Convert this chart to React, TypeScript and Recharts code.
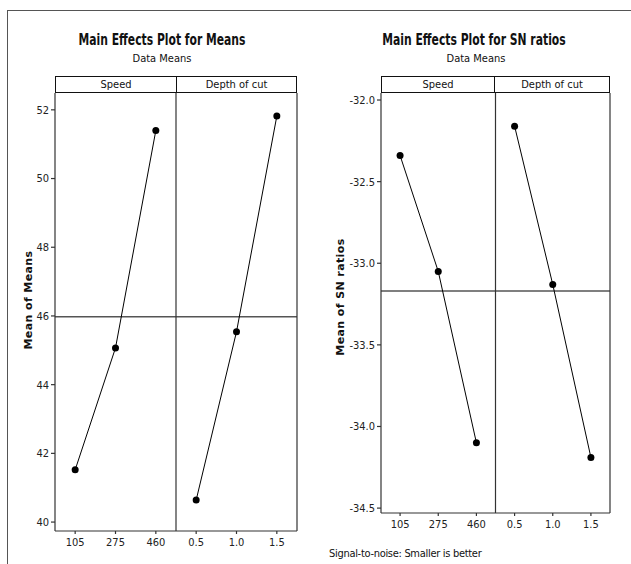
import React from 'react';
import { LineChart, Line, XAxis, YAxis, ReferenceLine } from 'recharts';

// factor levels
const speedLevels = ['105', '275', '460'];
const depthLevels = ['0.5', '1.0', '1.5'];
const xLabels = [...speedLevels, ...depthLevels];

// means of means
const speedMeans = [41.52, 45.07, 51.4];
const depthMeans = [40.64, 45.54, 51.82];
const meansGrand = 45.98;
const meansTicks = [40, 42, 44, 46, 48, 50, 52];

// means of SN ratios
const speedSN = [-32.34, -33.05, -34.1];
const depthSN = [-32.16, -33.13, -34.19];
const snGrand = -33.17;
const snTicks = [-34.5, -34.0, -33.5, -33.0, -32.5, -32.0];

const FONT = '"Liberation Sans Narrow", "DejaVu Sans Condensed", sans-serif';
const AXIS = '#333';

const buildRows = (a: number[], b: number[]) =>
  xLabels.map((_, i) => ({
    x: i,
    speed: i < 3 ? a[i] : null,
    depth: i >= 3 ? b[i - 3] : null,
  }));

const meansRows = buildRows(speedMeans, depthMeans);
const snRows = buildRows(speedSN, depthSN);

const dot = { r: 3.5, fill: '#000', stroke: '#000', strokeWidth: 0 };
const tickStyle = { fontSize: 11, fill: '#222', fontFamily: FONT };

interface PanelProps {
  rows: any[];
  domain: [number, number];
  ticks: number[];
  grand: number;
  fmt: (v: number) => string;
  width: number;
  height: number;
  margin: { top: number; right: number; left: number; bottom: number };
  yWidth: number;
}

const Panel: React.FC<PanelProps> = ({ rows, domain, ticks, grand, fmt, width, height, margin, yWidth }) => (
  <LineChart width={width} height={height} data={rows} margin={margin}>
    <XAxis
      type="number"
      dataKey="x"
      domain={[-0.5, 5.5]}
      ticks={[0, 1, 2, 3, 4, 5]}
      tickFormatter={(i: number) => xLabels[i]}
      stroke={AXIS}
      strokeWidth={1.2}
      tickSize={3}
      tickMargin={4}
      height={22}
      tick={tickStyle}
    />
    <YAxis
      type="number"
      domain={domain}
      ticks={ticks}
      allowDataOverflow
      tickFormatter={fmt}
      stroke={AXIS}
      strokeWidth={1.2}
      tickSize={4}
      tickMargin={2}
      width={yWidth}
      tick={tickStyle}
    />
    <ReferenceLine y={grand} stroke="#555" strokeWidth={1.5} />
    <ReferenceLine x={2.5} stroke={AXIS} strokeWidth={1.2} />
    <ReferenceLine x={5.5} stroke={AXIS} strokeWidth={1.2} />
    <Line dataKey="speed" stroke="#000" strokeWidth={1} dot={dot} activeDot={false} isAnimationActive={false} />
    <Line dataKey="depth" stroke="#000" strokeWidth={1} dot={dot} activeDot={false} isAnimationActive={false} />
  </LineChart>
);

const text = (extra: React.CSSProperties): React.CSSProperties => ({
  position: 'absolute',
  fontFamily: FONT,
  color: '#111',
  whiteSpace: 'nowrap',
  lineHeight: 1,
  ...extra,
});

const Strip: React.FC<{ left: number; width: number; label: string }> = ({ left, width, label }) => (
  <div
    style={{
      position: 'absolute',
      left,
      top: 76,
      width,
      height: 17,
      boxSizing: 'border-box',
      border: '1.2px solid #111',
      fontFamily: FONT,
      fontSize: 11,
      lineHeight: '15px',
      textAlign: 'center',
      color: '#111',
    }}
  >
    {label}
  </div>
);

const titleStyle = (left: number, width: number) =>
  text({ left, width, top: 33, textAlign: 'center', fontSize: 15, fontWeight: 'bold', transform: 'scaleX(0.8)' });

const yLabelStyle = (left: number, top: number) =>
  text({
    left,
    top,
    fontSize: 11,
    fontWeight: 'bold',
    letterSpacing: 0.4,
    fontFamily: '"DejaVu Sans", sans-serif',
    transform: 'translate(-50%, -50%) rotate(-90deg)',
  });

export default function App() {
  return (
    <div style={{ position: 'absolute', left: 0, top: 0, width: 631, height: 564, background: '#fff', overflow: 'hidden' }}>
      {/* outer frame */}
      <div style={{ position: 'absolute', left: 7, top: 10, width: 640, height: 600, borderLeft: '1.5px solid #555', borderTop: '1.5px solid #555' }} />

      {/* left: means */}
      <div style={titleStyle(0, 324)}>Main Effects Plot for Means</div>
      <div style={text({ left: 0, width: 324, top: 53, textAlign: 'center', fontSize: 11 })}>Data Means</div>
      <Strip left={55} width={122} label="Speed" />
      <Strip left={176} width={121} label="Depth of cut" />
      <div style={{ position: 'absolute', left: 0, top: 0 }}>
        <Panel
          rows={meansRows}
          domain={[39.74, 52.49]}
          ticks={meansTicks}
          grand={meansGrand}
          fmt={(v) => String(v)}
          width={310}
          height={564}
          margin={{ top: 93, right: 13, left: 10, bottom: 11 }}
          yWidth={45}
        />
      </div>
      <div style={yLabelStyle(28, 300)}>Mean of Means</div>

      {/* right: SN ratios */}
      <div style={titleStyle(310, 328)}>Main Effects Plot for SN ratios</div>
      <div style={text({ left: 310, width: 332, top: 53, textAlign: 'center', fontSize: 11 })}>Data Means</div>
      <Strip left={381} width={114} label="Speed" />
      <Strip left={494} width={116} label="Depth of cut" />
      <div style={{ position: 'absolute', left: 310, top: 0 }}>
        <Panel
          rows={snRows}
          domain={[-34.53, -31.957]}
          ticks={snTicks}
          grand={snGrand}
          fmt={(v) => v.toFixed(1)}
          width={321}
          height={564}
          margin={{ top: 93, right: 21, left: 21, bottom: 29 }}
          yWidth={50}
        />
      </div>
      <div style={yLabelStyle(340, 297)}>Mean of SN ratios</div>
      <div style={text({ left: 329, top: 548, fontSize: 11, letterSpacing: -0.3 })}>Signal-to-noise: Smaller is better</div>
    </div>
  );
}
